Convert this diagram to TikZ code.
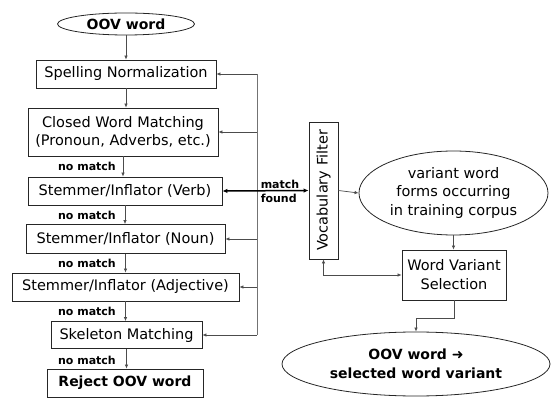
\documentclass[tikz,border=0pt]{standalone}
\usepackage{fontspec}
\setmainfont{DejaVu Sans}
\usetikzlibrary{arrows.meta,shapes.geometric}
\newcommand{\bx}{\fontsize{14.5}{17.5}\selectfont}
\newcommand{\bb}{\bfseries\fontsize{14}{18}\selectfont}
\newcommand{\lb}{\bfseries\fontsize{11}{13}\selectfont}

\tikzset{
  stage/.style={draw=black!85, line width=0.8pt, align=center, inner sep=1pt, font=\bx},
  oval/.style ={draw=black!85, line width=0.8pt, ellipse, align=center, inner sep=0pt, font=\bx},
  flow/.style ={draw=black!70, line width=0.7pt, -{Latex[length=4pt,width=3.5pt]}},
  bus/.style  ={draw=black!55, line width=0.7pt},
  note/.style ={font=\lb, inner sep=0pt}
}

\begin{document}
\begin{tikzpicture}[x=1pt,y=-1pt]
  \useasboundingbox (0,0) rectangle (552,398);
  \node[oval, minimum width=137, minimum height=22, font=\bb] (oov) at (126,24) {OOV word};
  \node[stage, minimum width=180, minimum height=28] (spell)  at (126,  74) {Spelling Normalization};
  \node[stage, minimum width=190, minimum height=48] (closed) at (123, 132) {Closed Word Matching\\(Pronoun, Adverbs, etc.)};
  \node[stage, minimum width=194, minimum height=28] (verb)   at (125, 191) {Stemmer/Inflator (Verb)};
  \node[stage, minimum width=199, minimum height=29] (noun)   at (125.5,239) {Stemmer/Inflator (Noun)};
  \node[stage, minimum width=227, minimum height=28] (adj)    at (125.5,287) {Stemmer/Inflator (Adjective)};
  \node[stage, minimum width=151, minimum height=27] (skel)   at (126.5,335) {Skeleton Matching};
  \node[stage, minimum width=156, minimum height=28, font=\bb] (reject) at (125,383) {Reject OOV word};
  \node[stage, minimum width=137, minimum height=29, rotate=90] (vocab) at (323.5,190.5) {Vocabulary Filter};
  \node[oval, minimum width=189, minimum height=84, font=\fontsize{14.5}{18.5}\selectfont] (corpus) at (453.5,193) {variant word\\forms occurring\\in training corpus};
  \node[stage, minimum width=104, minimum height=50, font=\fontsize{14.5}{19}\selectfont] (select) at (454,275) {Word Variant\\Selection};
  \node[oval, minimum width=268, minimum height=64, font=\bfseries\fontsize{14}{19}\selectfont] (result) at (416,364) {OOV word \char"279C\\selected word variant};

  \node[note, anchor=east] (nm1) at (116,166) {no match};
  \node[note, anchor=east] (nm2) at (116,215) {no match};
  \node[note, anchor=east] (nm3) at (116,263) {no match};
  \node[note, anchor=east] (nm4) at (116,311) {no match};
  \node[note, anchor=east] (nm5) at (116,360) {no match};
  \node[note, align=left, font=\bfseries\fontsize{11}{14}\selectfont] (found) at (280,191.5) {match\\found};

  \coordinate (bus) at (257,191);
  \coordinate (top) at (257,74);
  \coordinate (bot) at (257,335);

  \draw[flow] (oov.south)    -- (oov.south    |- spell.north);
  \draw[flow] (spell.south)  -- (spell.south  |- closed.north);
  \draw[flow] (closed.south) -- (closed.south |- verb.north);
  \draw[flow] (verb.south)   -- (verb.south   |- noun.north);
  \draw[flow] (noun.south)   -- (noun.south   |- adj.north);
  \draw[flow] (adj.south)    -- (adj.south    |- skel.north);
  \draw[flow] (skel.south)   -- (skel.south   |- reject.north);

  \draw[bus] (top) -- (bot);
  \draw[flow] (top) -- (spell.east);
  \draw[flow] (bus |- closed.east) -- (closed.east);
  \draw[flow] (bus |- noun.east) -- (noun.east);
  \draw[flow] (bus |- adj.east) -- (adj.east);
  \draw[flow] (bot) -- (skel.east);
  \draw[flow, draw=black, line width=1.5pt, {Latex[length=5pt,width=4.5pt]}-{Latex[length=5pt,width=4.5pt]}] (verb.east) -- (vocab.north);

  \draw[flow] (vocab.south) -- (corpus.west);
  \draw[flow] (corpus.south) -- (corpus.south |- select.north);
  \draw[flow, {Latex[length=4pt,width=3.5pt]}-{Latex[length=4pt,width=3.5pt]}] (vocab.west) |- (select.west);
  \draw[flow] (select.south) -- ++(0,18) -| (result.north);
\end{tikzpicture}
\end{document}
